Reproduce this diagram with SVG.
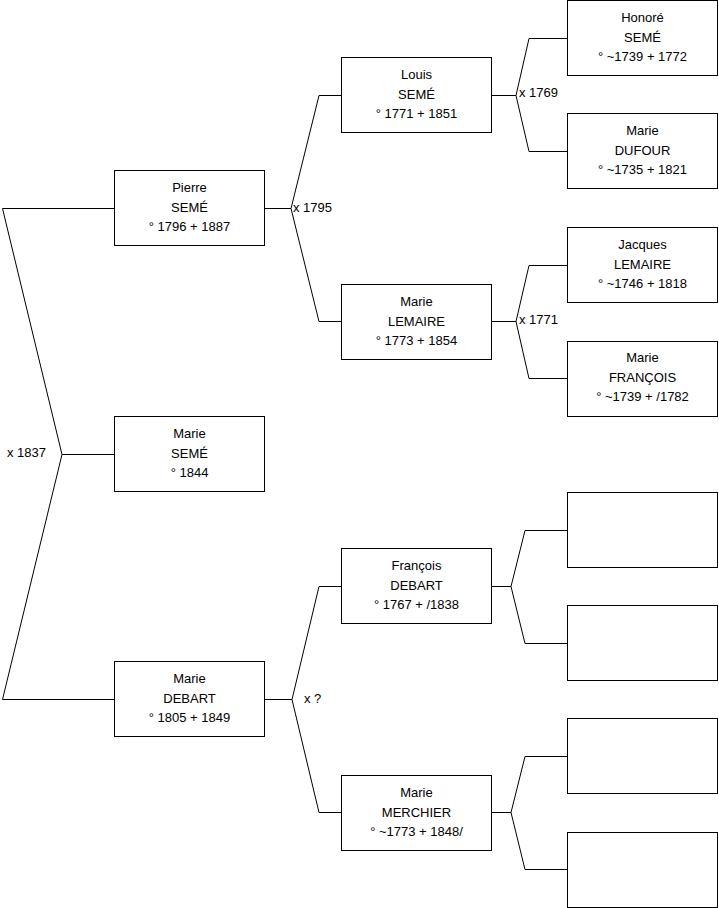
<svg xmlns="http://www.w3.org/2000/svg" width="719" height="908" viewBox="0 0 719 908">
<style>
.box{fill:#fff;stroke:#000;stroke-width:1}
.ln{fill:none;stroke:#000;stroke-width:1}
text{font-family:"Liberation Sans",Arial,sans-serif;font-size:13px;fill:#000}
.c{text-anchor:middle}
</style>
<rect width="719" height="908" fill="#fff"/>
<g id="connectors">
<polyline class="ln" points="114,208.5 2.5,208.5 62,454.5 2.5,699.5 114,699.5"/>
<line class="ln" x1="62" y1="454.5" x2="114" y2="454.5"/>
<line class="ln" x1="265" y1="208.5" x2="291" y2="208.5"/>
<polyline class="ln" points="341,95.5 319,95.5 291,208.5 319,321.5 341,321.5"/>
<line class="ln" x1="265" y1="699.5" x2="292" y2="699.5"/>
<polyline class="ln" points="341,586.5 319,586.5 292,699.5 319,812.5 341,812.5"/>
<line class="ln" x1="492" y1="95.5" x2="516" y2="95.5"/>
<polyline class="ln" points="567,38.5 529,38.5 516,95.5 529,151.5 567,151.5"/>
<line class="ln" x1="492" y1="321.5" x2="516" y2="321.5"/>
<polyline class="ln" points="567,265.5 529,265.5 516,321.5 529,378.5 567,378.5"/>
<line class="ln" x1="492" y1="586.5" x2="511" y2="586.5"/>
<polyline class="ln" points="567,530.5 525,530.5 511,586.5 525,643.5 567,643.5"/>
<line class="ln" x1="492" y1="812.5" x2="511" y2="812.5"/>
<polyline class="ln" points="567,756.5 525,756.5 511,812.5 525,869.5 567,869.5"/>
<text x="7" y="457">x 1837</text>
<text x="293" y="212">x 1795</text>
<text x="304" y="703">x ?</text>
<text x="519" y="97">x 1769</text>
<text x="519" y="324">x 1771</text>
</g>
<g id="pierre">
<rect class="box" x="114.5" y="170.5" width="150" height="75"/>
<text class="c" x="189.5" y="192">Pierre</text>
<text class="c" x="189.5" y="212">SEMÉ</text>
<text class="c" x="189.5" y="231">° 1796 + 1887</text>
</g>
<g id="marie-seme">
<rect class="box" x="114.5" y="416.5" width="150" height="75"/>
<text class="c" x="189.5" y="438">Marie</text>
<text class="c" x="189.5" y="458">SEMÉ</text>
<text class="c" x="189.5" y="477">° 1844</text>
</g>
<g id="marie-debart">
<rect class="box" x="114.5" y="661.5" width="150" height="75"/>
<text class="c" x="189.5" y="683">Marie</text>
<text class="c" x="189.5" y="703">DEBART</text>
<text class="c" x="189.5" y="722">° 1805 + 1849</text>
</g>
<g id="louis">
<rect class="box" x="341.5" y="57.5" width="150" height="75"/>
<text class="c" x="416.5" y="79">Louis</text>
<text class="c" x="416.5" y="99">SEMÉ</text>
<text class="c" x="416.5" y="118">° 1771 + 1851</text>
</g>
<g id="marie-lemaire">
<rect class="box" x="341.5" y="284.5" width="150" height="75"/>
<text class="c" x="416.5" y="306">Marie</text>
<text class="c" x="416.5" y="326">LEMAIRE</text>
<text class="c" x="416.5" y="345">° 1773 + 1854</text>
</g>
<g id="francois">
<rect class="box" x="341.5" y="548.5" width="150" height="75"/>
<text class="c" x="416.5" y="570">François</text>
<text class="c" x="416.5" y="590">DEBART</text>
<text class="c" x="416.5" y="609">° 1767 + /1838</text>
</g>
<g id="marie-merchier">
<rect class="box" x="341.5" y="775.5" width="150" height="75"/>
<text class="c" x="416.5" y="797">Marie</text>
<text class="c" x="416.5" y="817">MERCHIER</text>
<text class="c" x="416.5" y="836">° ~1773 + 1848/</text>
</g>
<g id="honore">
<rect class="box" x="567.5" y="0.5" width="150" height="75"/>
<text class="c" x="642.5" y="22">Honoré</text>
<text class="c" x="642.5" y="42">SEMÉ</text>
<text class="c" x="642.5" y="61">° ~1739 + 1772</text>
</g>
<g id="marie-dufour">
<rect class="box" x="567.5" y="113.5" width="150" height="75"/>
<text class="c" x="642.5" y="135">Marie</text>
<text class="c" x="642.5" y="155">DUFOUR</text>
<text class="c" x="642.5" y="174">° ~1735 + 1821</text>
</g>
<g id="jacques">
<rect class="box" x="567.5" y="227.5" width="150" height="75"/>
<text class="c" x="642.5" y="249">Jacques</text>
<text class="c" x="642.5" y="269">LEMAIRE</text>
<text class="c" x="642.5" y="288">° ~1746 + 1818</text>
</g>
<g id="marie-francois">
<rect class="box" x="567.5" y="341.5" width="150" height="75"/>
<text class="c" x="642.5" y="362">Marie</text>
<text class="c" x="642.5" y="382">FRANÇOIS</text>
<text class="c" x="642.5" y="401">° ~1739 + /1782</text>
</g>
<g id="empty1"><rect class="box" x="567.5" y="492.5" width="150" height="75"/></g>
<g id="empty2"><rect class="box" x="567.5" y="605.5" width="150" height="75"/></g>
<g id="empty3"><rect class="box" x="567.5" y="718.5" width="150" height="75"/></g>
<g id="empty4"><rect class="box" x="567.5" y="832.5" width="150" height="75"/></g>
</svg>
